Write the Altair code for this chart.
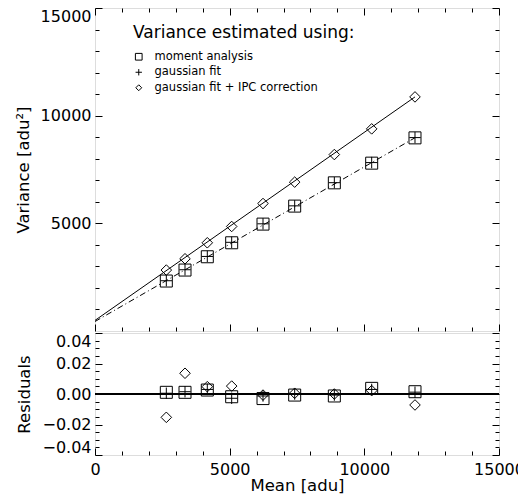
import altair as alt
import pandas as pd

# ---------------- data ----------------
mean_adu = [2648, 3342, 4170, 5075, 6238, 7414, 8886, 10273, 11881]
var_moment = [2320, 2830, 3448, 4097, 4964, 5800, 6881, 7795, 8969]
var_gauss = [2335, 2845, 3462, 4118, 4978, 5812, 6888, 7822, 8982]
var_ipc = [2830, 3355, 4097, 4854, 5921, 6913, 8195, 9387, 10871]

res_moment = [0.0011, 0.0011, 0.0026, -0.0018, -0.0030, -0.0007, -0.0013, 0.0037, 0.0015]
res_gauss = [0.0005, 0.0015, 0.0030, -0.0028, -0.0013, 0.0000, -0.0007, 0.0030, 0.0012]
res_ipc = [-0.0153, 0.0136, 0.0048, 0.0052, -0.0007, 0.0005, 0.0000, 0.0022, -0.0072]

fit_mean = [0, 11881]
fit_ipc = [492, 10871]
fit_gauss = [440, 8975]

methods = ["moment analysis", "gaussian fit", "gaussian fit + IPC correction"]

x_major = [0, 5000, 10000, 15000]
x_minor = [1000, 2000, 3000, 4000, 6000, 7000, 8000, 9000, 11000, 12000, 13000, 14000]
var_major = [5000, 10000, 15000]
var_minor = [1000, 2000, 3000, 4000, 6000, 7000, 8000, 9000, 11000, 12000, 13000, 14000]
res_major = [-0.04, -0.02, 0.0, 0.02, 0.04]
res_minor = [-0.035, -0.03, -0.025, -0.015, -0.01, -0.005, 0.005, 0.01, 0.015, 0.025, 0.03, 0.035]

# ---------------- tables ----------------
top_df = pd.DataFrame({
    "mean": mean_adu * 3,
    "value": var_moment + var_gauss + var_ipc,
    "method": [methods[0]] * 9 + [methods[1]] * 9 + [methods[2]] * 9,
})
res_df = pd.DataFrame({
    "mean": mean_adu * 3,
    "value": res_moment + res_gauss + res_ipc,
    "method": [methods[0]] * 9 + [methods[1]] * 9 + [methods[2]] * 9,
})
fit_df = pd.DataFrame({
    "mean": fit_mean * 2,
    "value": fit_ipc + fit_gauss,
    "fit": ["ipc"] * 2 + ["gauss"] * 2,
})

FONT = "DejaVu Sans"
W, H_TOP, H_RES = 404, 323, 122
MAJ, MIN = 7, 4

SQUARE = "M-1,-1H1V1H-1Z"
PLUS = "M-0.95,0H0.95M0,-0.95V0.95"
DIAMOND = "M0,-0.88L0.88,0L0,0.88L-0.88,0Z"

xscale = alt.Scale(domain=[0, 15000], nice=False, zero=False)
ytop = alt.Scale(domain=[0, 15000], nice=False, zero=False)
yres = alt.Scale(domain=[-0.04, 0.04], nice=False, zero=False)

shape_scale = alt.Scale(domain=methods, range=[SQUARE, PLUS, DIAMOND])


def axis(orient, values, size, labels=False, title=None, fmt=None, flush=False,
         pad=4, title_pad=9):
    kw = dict(orient=orient, values=values, tickSize=size, offset=-size,
              domain=False, grid=False, ticks=True, tickColor="black",
              tickWidth=1, labels=labels, labelFont=FONT, labelFontSize=16,
              labelColor="black", labelPadding=pad, labelFlush=flush,
              labelOverlap=False, title=title)
    if title:
        kw.update(titleFont=FONT, titleFontSize=16.5, titleFontWeight="normal",
                  titlePadding=title_pad, titleColor="black")
    if fmt:
        kw["format"] = fmt
    return alt.Axis(**kw)


def axis_layer(df, yscale, xax, yax):
    return alt.Chart(df).mark_point(opacity=0).encode(
        x=alt.X("mean:Q", scale=xscale, axis=xax),
        y=alt.Y("value:Q", scale=yscale, axis=yax),
    )


# ---------------- top panel ----------------
line_ipc = alt.Chart(fit_df).transform_filter(alt.datum.fit == "ipc").mark_line(
    color="black", strokeWidth=1
).encode(
    x=alt.X("mean:Q", scale=xscale, axis=None),
    y=alt.Y("value:Q", scale=ytop, axis=None),
)
line_gauss = alt.Chart(fit_df).transform_filter(alt.datum.fit == "gauss").mark_line(
    color="black", strokeWidth=1, strokeDash=[6, 3, 1, 3]
).encode(
    x=alt.X("mean:Q", scale=xscale, axis=None),
    y=alt.Y("value:Q", scale=ytop, axis=None),
)
pts_top = alt.Chart(top_df).mark_point(
    filled=False, color="black", strokeWidth=1, opacity=1, size=144
).encode(
    x=alt.X("mean:Q", scale=xscale, axis=None),
    y=alt.Y("value:Q", scale=ytop, axis=None),
    shape=alt.Shape("method:N", scale=shape_scale, legend=alt.Legend(
        title="Variance estimated using:", orient="none", legendX=38, legendY=17,
        titleFont=FONT, titleFontSize=17, titleFontWeight="normal",
        titleColor="black", titlePadding=9, titleLimit=400,
        labelFont=FONT, labelFontSize=11.5, labelLimit=400,
        labelColor="black", symbolSize=45, symbolStrokeWidth=1,
        symbolStrokeColor="black", rowPadding=2.5, labelOffset=10, padding=0,
    )),
)

top = alt.layer(
    line_ipc, line_gauss, pts_top,
    axis_layer(top_df, ytop,
               axis("bottom", x_major, MAJ),
               axis("left", var_major, MAJ, labels=True, title="Variance [adu²]",
                    fmt="d", flush=True)),
    axis_layer(top_df, ytop, axis("bottom", x_minor, MIN), axis("left", var_minor, MIN)),
    axis_layer(top_df, ytop, axis("top", x_major, MAJ), axis("right", var_major, MAJ)),
    axis_layer(top_df, ytop, axis("top", x_minor, MIN), axis("right", var_minor, MIN)),
).resolve_axis(x="independent", y="independent").properties(width=W, height=H_TOP)

# ---------------- residual panel ----------------
zero_rule = alt.Chart(res_df).mark_rule(color="black", strokeWidth=1).encode(
    y=alt.Y("zero:Q", scale=yres, axis=None)
).transform_calculate(zero="0").transform_filter(alt.datum.method == methods[0])

pts_res = alt.Chart(res_df).mark_point(
    filled=False, color="black", strokeWidth=1, opacity=1, size=144
).encode(
    x=alt.X("mean:Q", scale=xscale, axis=None),
    y=alt.Y("value:Q", scale=yres, axis=None),
    shape=alt.Shape("method:N", scale=shape_scale, legend=None),
)

bottom = alt.layer(
    zero_rule, pts_res,
    axis_layer(res_df, yres,
               axis("bottom", x_major, MAJ, labels=True, title="Mean [adu]", fmt="d",
                    pad=6, title_pad=0),
               axis("left", res_major, MAJ, labels=True, title="Residuals",
                    fmt=".2f", flush=True)),
    axis_layer(res_df, yres, axis("bottom", x_minor, MIN), axis("left", res_minor, MIN)),
    axis_layer(res_df, yres, None, axis("right", res_major, MAJ)),
    axis_layer(res_df, yres, None, axis("right", res_minor, MIN)),
).resolve_axis(x="independent", y="independent").properties(width=W, height=H_RES)

chart = alt.vconcat(top, bottom, spacing=0).properties(
    padding={"left": 6, "top": -1, "right": -7, "bottom": 0}
).configure_view(stroke="black", strokeWidth=1).configure(font=FONT)

chart.save("out.html", embed_options={"renderer": "svg", "actions": False})
